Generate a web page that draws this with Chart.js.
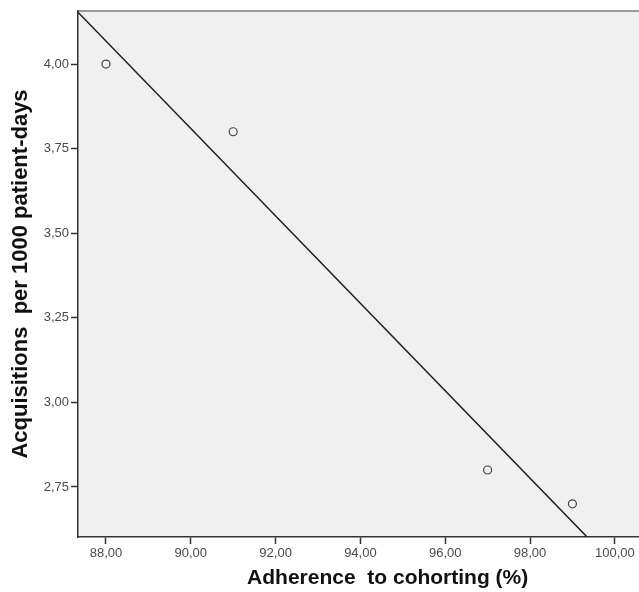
<!DOCTYPE html>
<html><head><meta charset="utf-8">
<script src="https://cdn.jsdelivr.net/npm/chart.js@4"></script>
<style>html,body{margin:0;padding:0;background:#fff}#wrap{width:639px;height:592px}</style>
</head><body><div id="wrap"><canvas id="c" width="639" height="592"></canvas></div>
<script>
const adherence = [88, 91, 97, 99];
const acquisitions = [4.00, 3.80, 2.80, 2.70];
const xTickValues = [88, 90, 92, 94, 96, 98, 100];
const yTickValues = [2.75, 3.00, 3.25, 3.50, 3.75, 4.00];
const xRange = [87.34, 100.57];
const yRange = [2.602, 4.157];
const xTitle = 'Adherence  to cohorting (%)';
const yTitle = 'Acquisitions  per 1000 patient-days';

// least squares fit line
const n = adherence.length;
const mx = adherence.reduce((a,b)=>a+b,0)/n;
const my = acquisitions.reduce((a,b)=>a+b,0)/n;
let sxy=0,sxx=0;
for(let i=0;i<n;i++){sxy+=(adherence[i]-mx)*(acquisitions[i]-my);sxx+=(adherence[i]-mx)**2;}
const slope=sxy/sxx, icpt=my-slope*mx;
const fitLine = xRange.map(x=>({x:x,y:icpt+slope*x}));

const fmt = v => Number(v).toFixed(2).replace('.', ',');

const bgPlugin = {
  id:'bg',
  beforeDraw(chart){
    const {ctx, chartArea:a} = chart;
    ctx.save();
    ctx.fillStyle='#f0f0f0';
    ctx.fillRect(a.left,a.top,a.right-a.left,a.bottom-a.top);
    ctx.strokeStyle='#7a7a7a';ctx.lineWidth=1.5;
    ctx.beginPath();ctx.moveTo(a.left,a.top);ctx.lineTo(a.right,a.top);ctx.stroke();
    ctx.restore();
  },
  afterDraw(chart){
    const {ctx, chartArea:a} = chart;
    ctx.save();
    ctx.fillStyle='#111';
    ctx.font='bold 21px Arial, "Liberation Sans"';
    ctx.textAlign='center';ctx.textBaseline='middle';
    ctx.fillText(xTitle, a.left + (a.right-a.left)*0.552, chart.height-14);
    ctx.restore();
  }
};

new Chart(document.getElementById('c'), {
  type:'scatter',
  data:{datasets:[
    {type:'line', data:fitLine, borderColor:'#1e1e1e', borderWidth:1.5, pointRadius:0, fill:false, order:2},
    {data:adherence.map((x,i)=>({x:x,y:acquisitions[i]})), pointRadius:4, pointBackgroundColor:'rgba(0,0,0,0)', pointBorderColor:'#444', pointBorderWidth:1.2, order:1}
  ]},
  options:{
    responsive:false, animation:false,
    layout:{autoPadding:false, padding:{top:11,right:0,left:0,bottom:0}},
    plugins:{legend:{display:false}, tooltip:{enabled:false}},
    scales:{
      x:{type:'linear', min:xRange[0], max:xRange[1],
        afterBuildTicks(s){s.ticks=xTickValues.map(v=>({value:v}));},
        afterFit(s){s.height=55;s.paddingRight=0;s.paddingLeft=0;},
        grid:{drawOnChartArea:false, drawTicks:true, tickLength:7, tickColor:'#333', tickWidth:1.5},
        border:{display:true, color:'#333', width:1.5},
        ticks:{callback:fmt, color:'#4a4a4a', font:{family:'Arial, Liberation Sans', size:13}, padding:2, maxRotation:0, autoSkip:false},
        title:{display:false}
      },
      y:{type:'linear', min:yRange[0], max:yRange[1],
        afterBuildTicks(s){s.ticks=yTickValues.map(v=>({value:v}));},
        afterFit(s){s.width=78;s.paddingTop=0;s.paddingBottom=0;},
        grid:{drawOnChartArea:false, drawTicks:true, tickLength:7, tickColor:'#333', tickWidth:1.5},
        border:{display:true, color:'#333', width:1.5},
        ticks:{callback:fmt, color:'#4a4a4a', font:{family:'Arial, Liberation Sans', size:13}, padding:2, autoSkip:false},
        title:{display:true, text:yTitle, color:'#111', font:{family:'Arial, Liberation Sans', size:22, weight:'bold'}, padding:{top:8,bottom:0}}
      }
    }
  },
  plugins:[bgPlugin]
});
</script></body></html>
